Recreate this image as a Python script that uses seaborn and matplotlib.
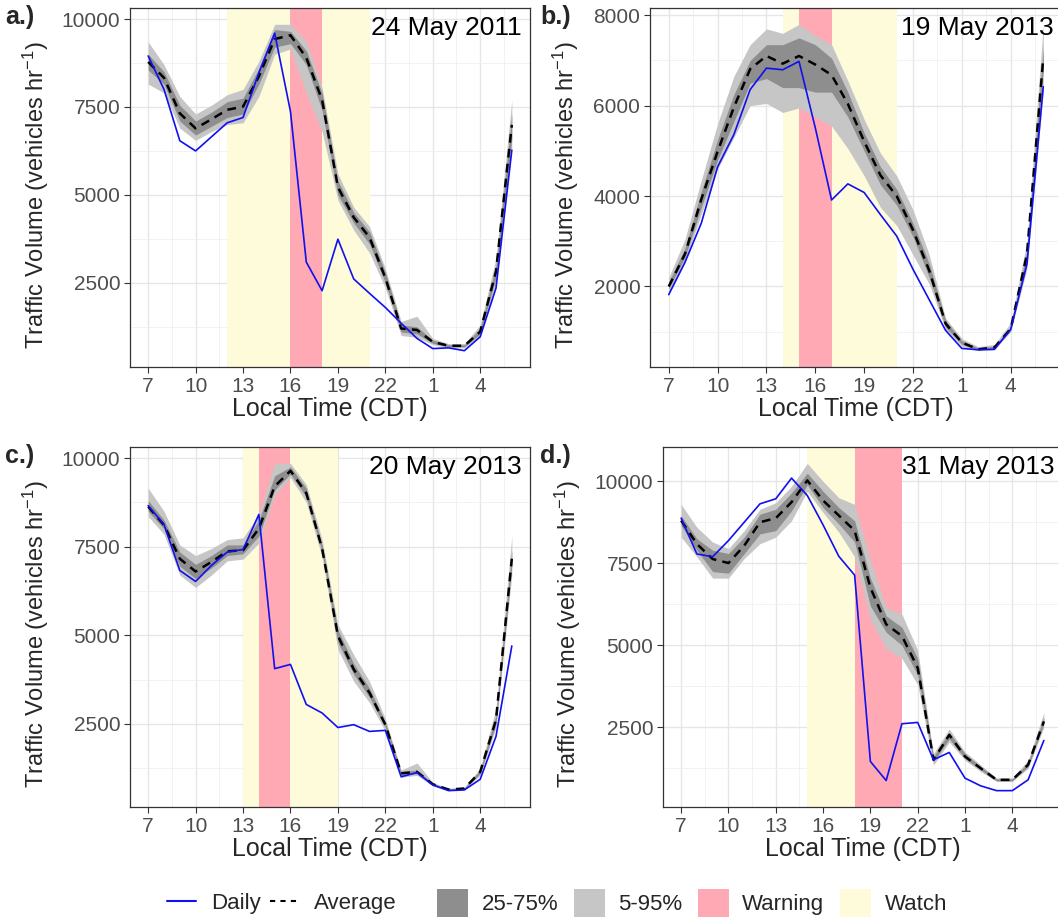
import numpy as np
import pandas as pd
import matplotlib
matplotlib.use('Agg')
import matplotlib.pyplot as plt
from matplotlib.lines import Line2D
from matplotlib.patches import Patch
from matplotlib.ticker import FixedLocator, MultipleLocator
import seaborn as sns

# hours 7..30 (25 = 1 am, 28 = 4 am next day)
hours = list(range(7, 31))
xtick_pos = [7, 10, 13, 16, 19, 22, 25, 28]
xtick_labels = ['7', '10', '13', '16', '19', '22', '1', '4']

# ---- a.) 24 May 2011
a_daily = [8950, 8000, 6540, 6250, 6650, 7050, 7200, 8470, 9600, 7370, 3090, 2275,
           3740, 2610, 2200, 1800, 1350, 920, 630, 650, 570, 965, 2350, 6270]
a_avg = [8780, 8330, 7320, 6890, 7150, 7420, 7510, 8370, 9430, 9540, 8900, 7700,
         5220, 4360, 3790, 2640, 1200, 1160, 820, 710, 710, 1110, 2830, 6990]
a_q05 = [8150, 7900, 6900, 6550, 6800, 7000, 7050, 7800, 9000, 9150, 7900, 6800,
         4850, 4000, 3350, 2350, 1000, 950, 740, 650, 650, 1000, 2500, 6300]
a_q25 = [8550, 8150, 7100, 6700, 6950, 7200, 7300, 8150, 9200, 9300, 8700, 7400,
         5000, 4200, 3600, 2500, 1100, 1050, 780, 680, 680, 1050, 2650, 6600]
a_q75 = [9000, 8500, 7550, 7100, 7350, 7650, 7750, 8600, 9700, 9650, 9100, 7900,
         5400, 4500, 3950, 2800, 1300, 1250, 870, 740, 740, 1200, 3000, 7300]
a_q95 = [9350, 8700, 7800, 7300, 7550, 7850, 8000, 8800, 9850, 9850, 9350, 8050,
         5600, 4650, 4100, 2900, 1400, 1550, 920, 770, 770, 1300, 3200, 7700]

# ---- b.) 19 May 2013
b_daily = [1820, 2535, 3400, 4645, 5360, 6356, 6830, 6795, 6980, 5510, 3914, 4270,
           4080, 3590, 3115, 2380, 1705, 1030, 630, 600, 610, 1050, 2500, 6420]
b_avg = [2000, 2720, 3930, 4985, 5965, 6810, 7100, 6930, 7100, 6910, 6680, 6040,
         5210, 4460, 4000, 3250, 2350, 1180, 760, 610, 650, 1065, 2720, 7060]
b_q05 = [1850, 2550, 3600, 4600, 5300, 6000, 6050, 5850, 5950, 5750, 5550, 5050,
         4450, 3750, 3350, 2700, 2050, 1050, 680, 580, 600, 1000, 2400, 6300]
b_q25 = [1950, 2650, 3750, 4800, 5650, 6500, 6600, 6400, 6400, 6300, 6300, 5750,
         5000, 4250, 3800, 3100, 2200, 1100, 720, 600, 630, 1030, 2600, 6800]
b_q75 = [2100, 2850, 4100, 5250, 6250, 7000, 7350, 7350, 7500, 7350, 7050, 6300,
         5400, 4650, 4150, 3400, 2500, 1250, 800, 640, 680, 1100, 2800, 7300]
b_q95 = [2200, 3050, 4350, 5600, 6650, 7350, 7700, 7600, 7800, 7550, 7350, 6550,
         5700, 4950, 4450, 3700, 2700, 1300, 850, 670, 720, 1200, 3000, 7800]

# ---- c.) 20 May 2013
c_daily = [8657, 8127, 6830, 6520, 6970, 7350, 7420, 8410, 4060, 4180, 3050, 2810,
           2400, 2480, 2290, 2320, 1010, 1130, 780, 620, 640, 940, 2150, 4700]
c_avg = [8630, 8110, 7160, 6800, 7070, 7370, 7400, 8010, 9200, 9640, 9010, 7450,
         4990, 4040, 3380, 2480, 1110, 1150, 800, 650, 680, 1150, 2620, 7160]
c_q05 = [8350, 7850, 6700, 6350, 6700, 7100, 7150, 7600, 8950, 9450, 8750, 7200,
         4600, 3700, 3100, 2300, 1000, 1050, 750, 620, 650, 1050, 2400, 6700]
c_q25 = [8500, 8000, 6950, 6600, 6900, 7250, 7300, 7800, 9100, 9550, 8900, 7350,
         4800, 3900, 3250, 2400, 1050, 1100, 770, 640, 670, 1100, 2500, 6950]
c_q75 = [8800, 8250, 7350, 7000, 7250, 7550, 7550, 8250, 9500, 9750, 9150, 7550,
         5150, 4200, 3500, 2550, 1150, 1200, 830, 670, 700, 1200, 2750, 7400]
c_q95 = [9150, 8500, 7550, 7250, 7450, 7700, 7750, 8400, 9850, 9850, 9250, 7700,
         5300, 4450, 3700, 2650, 1200, 1400, 850, 690, 720, 1250, 2950, 7800]

# ---- d.) 31 May 2013
d_daily = [8878, 7786, 7704, 8194, 8755, 9316, 9469, 10100, 9571, 8673, 7714, 7143,
           1459, 878, 2610, 2650, 1510, 1735, 950, 715, 570, 570, 900, 2100]
d_avg = [8806, 8092, 7633, 7510, 8040, 8755, 8878, 9367, 10030, 9418, 8960, 8500,
         6765, 5643, 5286, 4316, 1510, 2270, 1610, 1250, 900, 900, 1360, 2680]
d_q05 = [8300, 7700, 7050, 7050, 7650, 8100, 8300, 8800, 9700, 9050, 8450, 7700,
         5800, 4900, 4600, 3800, 1350, 2050, 1500, 1150, 850, 850, 1250, 2500]
d_q25 = [8650, 7900, 7250, 7200, 7800, 8400, 8500, 9100, 9900, 9200, 8700, 8150,
         6200, 5400, 5000, 4100, 1450, 2150, 1550, 1200, 870, 870, 1300, 2600]
d_q75 = [8950, 8250, 7900, 7800, 8300, 9000, 9150, 9650, 10250, 9700, 9200, 8800,
         7050, 5900, 5550, 4600, 1600, 2350, 1700, 1300, 930, 930, 1420, 2800]
d_q95 = [9300, 8600, 8150, 7950, 8500, 9150, 9350, 9850, 10550, 10000, 9500, 9300,
         7600, 6150, 5950, 4850, 1700, 2450, 1750, 1350, 960, 960, 1500, 2950]

panel_tags = ['a.)', 'b.)', 'c.)', 'd.)']
panel_dates = ['24 May 2011', '19 May 2013', '20 May 2013', '31 May 2013']
watch_start = [12, 14, 13, 15]
watch_end = [21, 21, 19, 18]
warn_start = [16, 15, 14, 18]
warn_end = [18, 17, 16, 21]
ytick_step = [2500, 2000, 2500, 2500]

daily = [a_daily, b_daily, c_daily, d_daily]
avg = [a_avg, b_avg, c_avg, d_avg]
q05 = [a_q05, b_q05, c_q05, d_q05]
q25 = [a_q25, b_q25, c_q25, d_q25]
q75 = [a_q75, b_q75, c_q75, d_q75]
q95 = [a_q95, b_q95, c_q95, d_q95]

c_watch = '#FDFBDA'
c_warn = '#FFA9B4'
c_outer = '#C6C6C6'
c_inner = '#8E8E8E'

sns.set_theme(style='white')
plt.rcParams['font.family'] = ['Liberation Sans', 'DejaVu Sans']
plt.rcParams['mathtext.fontset'] = 'custom'
plt.rcParams['mathtext.rm'] = 'Liberation Sans'
plt.rcParams['mathtext.it'] = 'Liberation Sans:italic'

W, H = 1058, 917
fig = plt.figure(figsize=(W / 100, H / 100), dpi=100)

# axes boxes in pixels: left, right, top, bottom
boxes = [(130, 530, 8, 367), (650, 1062, 8, 367),
         (130, 530, 447, 807), (663, 1062, 447, 807)]
tag_x = [5, 540, 5, 540]
ylabel_x = [51, 581, 51, 583]   # right edge of the rotated y label, px

for i, (l, r, t, b) in enumerate(boxes):
    ax = fig.add_axes([l / W, (H - b) / H, (r - l) / W, (b - t) / H])
    ax.set_axisbelow(True)
    ax.axvspan(watch_start[i], watch_end[i], color=c_watch, lw=0, zorder=1)
    ax.axvspan(warn_start[i], warn_end[i], color=c_warn, lw=0, zorder=1.1)
    ax.fill_between(hours, q05[i], q95[i], color=c_outer, lw=0, zorder=2)
    ax.fill_between(hours, q25[i], q75[i], color=c_inner, lw=0, zorder=2.1)

    df = pd.DataFrame({'hour': hours, 'daily': daily[i], 'avg': avg[i]})
    sns.lineplot(data=df, x='hour', y='avg', ax=ax, color='black', lw=1.8,
                 linestyle=(0, (3.5, 2.5)), zorder=3)
    sns.lineplot(data=df, x='hour', y='daily', ax=ax, color='#1010F0', lw=1.2, zorder=4)

    ax.margins(x=0.05, y=0.05)
    ax.xaxis.set_major_locator(FixedLocator(xtick_pos))
    ax.xaxis.set_minor_locator(FixedLocator([p + 1.5 for p in xtick_pos]))
    ax.set_xticklabels(xtick_labels)
    ax.yaxis.set_major_locator(MultipleLocator(ytick_step[i]))
    ax.yaxis.set_minor_locator(MultipleLocator(ytick_step[i] / 2))
    ax.grid(which='major', color='#E6E6E6', lw=1.0)
    ax.grid(which='minor', color='#F0F0F0', lw=0.6)
    ax.tick_params(which='major', direction='out', length=4, width=0.8,
                   color='#333333', labelsize=15, labelcolor='#4D4D4D', pad=3,
                   bottom=True, left=True)
    ax.tick_params(which='minor', length=0)
    for s in ax.spines.values():
        s.set_color('#333333')
        s.set_linewidth(0.9)
    ax.set_xlabel('Local Time (CDT)', fontsize=18, labelpad=1)
    ax.set_ylabel('Traffic Volume (vehicles hr$^{-1}$)', fontsize=17)
    ax.yaxis.set_label_coords((ylabel_x[i] - l) / (r - l), 0.48)
    ax.text(1 - 8 / (r - l), 1 - 20 / (b - t), panel_dates[i], transform=ax.transAxes,
            ha='right', va='center', fontsize=19, color='black', zorder=5)
    fig.text(tag_x[i] / W, (H - t - 9) / H, panel_tags[i], fontsize=18,
             fontweight='bold', ha='left', va='center')

line_handles = [Line2D([], [], color='#1010F0', lw=1.5),
                Line2D([], [], color='black', lw=1.5, linestyle=(0, (2.5, 2.5)))]
fill_handles = [Patch(facecolor=c_inner, edgecolor='none'),
                Patch(facecolor=c_outer, edgecolor='none'),
                Patch(facecolor=c_warn, edgecolor='none'),
                Patch(facecolor=c_watch, edgecolor='none')]

fig.legend(line_handles, ['Daily', 'Average'], loc='center',
           bbox_to_anchor=(282 / W, 14 / H), ncol=2, frameon=False, fontsize=16,
           handlelength=1.3, handletextpad=0.7, columnspacing=0.4)
fig.legend(fill_handles, ['25-75%', '5-95%', 'Warning', 'Watch'], loc='center',
           bbox_to_anchor=(692 / W, 14 / H), ncol=4, frameon=False, fontsize=16,
           handlelength=1.4, handleheight=1.6, handletextpad=0.6, columnspacing=0.7)

fig.savefig('out.png', dpi=100)
